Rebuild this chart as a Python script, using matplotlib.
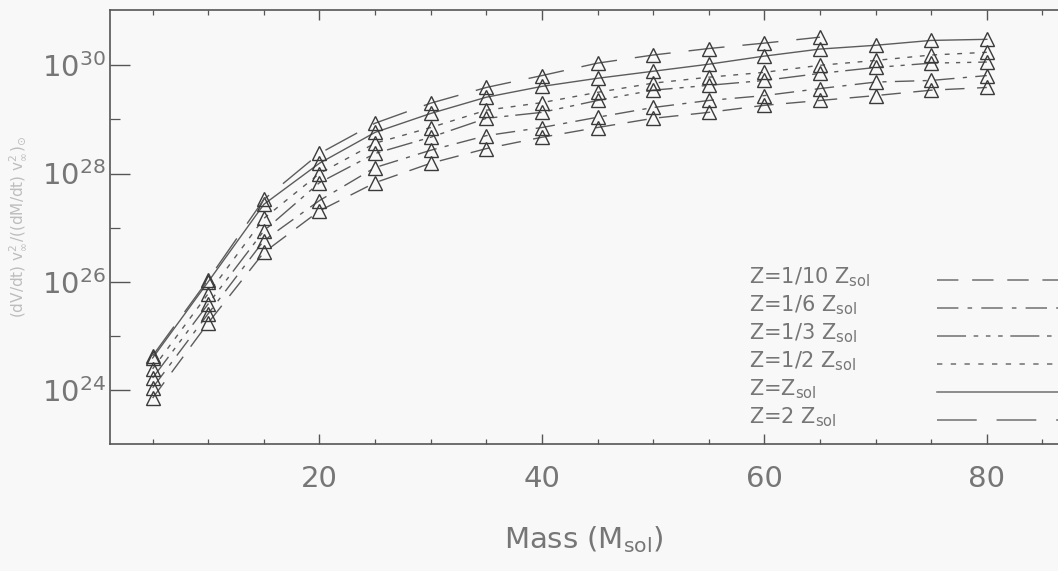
import matplotlib
matplotlib.use("Agg")
import matplotlib.pyplot as plt
from matplotlib.ticker import MultipleLocator, FixedLocator, LogFormatterMathtext, NullFormatter
import numpy as np

plt.rcParams['font.family'] = ['DejaVu Sans']
plt.rcParams['mathtext.default'] = 'regular'

# masses (M_sol) and log10 of the normalised quantity
mass = [5, 10, 15, 20, 25, 30, 35, 40, 45, 50, 55, 60, 65, 70, 75, 80]
mass_z2 = mass[:13]

log_z010 = [23.85, 25.24, 26.54, 27.31, 27.83, 28.19, 28.46, 28.67, 28.85, 29.02, 29.13, 29.26, 29.35, 29.44, 29.54, 29.59]
log_z016 = [24.04, 25.41, 26.76, 27.50, 28.11, 28.43, 28.70, 28.85, 29.04, 29.22, 29.35, 29.44, 29.57, 29.69, 29.72, 29.81]
log_z033 = [24.22, 25.59, 26.94, 27.83, 28.37, 28.67, 29.02, 29.13, 29.35, 29.54, 29.63, 29.72, 29.85, 29.96, 30.04, 30.06]
log_z050 = [24.39, 25.78, 27.17, 28.00, 28.56, 28.85, 29.17, 29.31, 29.50, 29.67, 29.78, 29.87, 30.00, 30.09, 30.19, 30.24]
log_z100 = [24.59, 26.00, 27.43, 28.19, 28.76, 29.11, 29.41, 29.61, 29.76, 29.89, 30.02, 30.17, 30.30, 30.37, 30.46, 30.48]
log_z200 = [24.63, 26.04, 27.52, 28.37, 28.93, 29.30, 29.59, 29.81, 30.04, 30.19, 30.31, 30.41, 30.52]

labels = ['Z=1/10 Z$_{sol}$', 'Z=1/6 Z$_{sol}$', 'Z=1/3 Z$_{sol}$',
          'Z=1/2 Z$_{sol}$', 'Z=Z$_{sol}$', 'Z=2 Z$_{sol}$']

# dash patterns (IDL linestyles 2,3,4,1,0,5)
styles = [(0, (14, 9)),
          (0, (14, 6, 3, 6)),
          (0, (19, 5, 3, 5, 3, 5, 3, 5)),
          (0, (3.5, 5.5)),
          '-',
          (0, (26, 13))]

series = [(mass, log_z010), (mass, log_z016), (mass, log_z033),
          (mass, log_z050), (mass, log_z100), (mass_z2, log_z200)]

bg = '#f8f8f8'
line_col = '#5c5c5c'
text_col = '#767676'

fig = plt.figure(figsize=(10.58, 5.71), dpi=100, facecolor=bg)
ax = fig.add_axes([0.104, 0.2224, 0.896, 0.760])
ax.set_facecolor(bg)

for (x, ly), ls in zip(series, styles):
    y = 10 ** np.array(ly)
    ax.plot(x, y, linestyle=ls, color=line_col, lw=1.0)
    ax.plot(x, y, linestyle='none', marker='^', ms=10, mfc='none',
            mec='#3a3a3a', mew=1.0)

ax.set_yscale('log')
ax.set_xlim(1.17, 86.4)
ax.set_ylim(1e23, 1.05e31)

ax.xaxis.set_major_locator(MultipleLocator(20))
ax.xaxis.set_minor_locator(MultipleLocator(5))
ax.yaxis.set_major_locator(FixedLocator([1e24, 1e26, 1e28, 1e30]))
ax.yaxis.set_major_formatter(LogFormatterMathtext())
ax.yaxis.set_minor_locator(FixedLocator([1e25, 1e27, 1e29]))
ax.yaxis.set_minor_formatter(NullFormatter())

ax.tick_params(axis='x', which='both', direction='in', top=True, bottom=True,
               colors='#555555', labelcolor=text_col, labelsize=21, pad=15)
ax.tick_params(axis='x', which='major', length=7.2, width=1.0)
ax.tick_params(axis='x', which='minor', length=3.6, width=0.9)
ax.tick_params(axis='y', which='both', direction='in', left=True, right=False,
               colors='#555555', labelcolor=text_col, labelsize=21, pad=3)
ax.tick_params(axis='y', which='major', length=14.4, width=1.0)
ax.tick_params(axis='y', which='minor', length=7.2, width=0.9)

for side in ['left', 'bottom', 'top']:
    ax.spines[side].set_color('#555555')
    ax.spines[side].set_linewidth(1.2)
ax.spines['right'].set_visible(False)

ax.set_xlabel('Mass (M$_{sol}$)', fontsize=21, color=text_col)
ax.xaxis.set_label_coords(0.5, -0.185)
ax.set_ylabel(r'(dV/dt) v$_{\infty}^{2}$/((dM/dt) v$_{\infty}^{2}$)$_{\odot}$',
              fontsize=11, color='#bdbdbd')
ax.yaxis.set_label_coords(-0.0865, 0.5)

# legend: text on the left, line sample on the right
for i, (lab, ls) in enumerate(zip(labels, styles)):
    yb = 0.371 - i * 0.0645
    ax.text(0.674, yb, lab, transform=ax.transAxes, fontsize=15,
            color=text_col, va='baseline', ha='left')
    ax.plot([0.872, 1.0], [yb + 0.006, yb + 0.006], transform=ax.transAxes,
            linestyle=ls, color='#707070', lw=1.1, clip_on=False)

fig.savefig('out.png', dpi=100, facecolor=bg)
